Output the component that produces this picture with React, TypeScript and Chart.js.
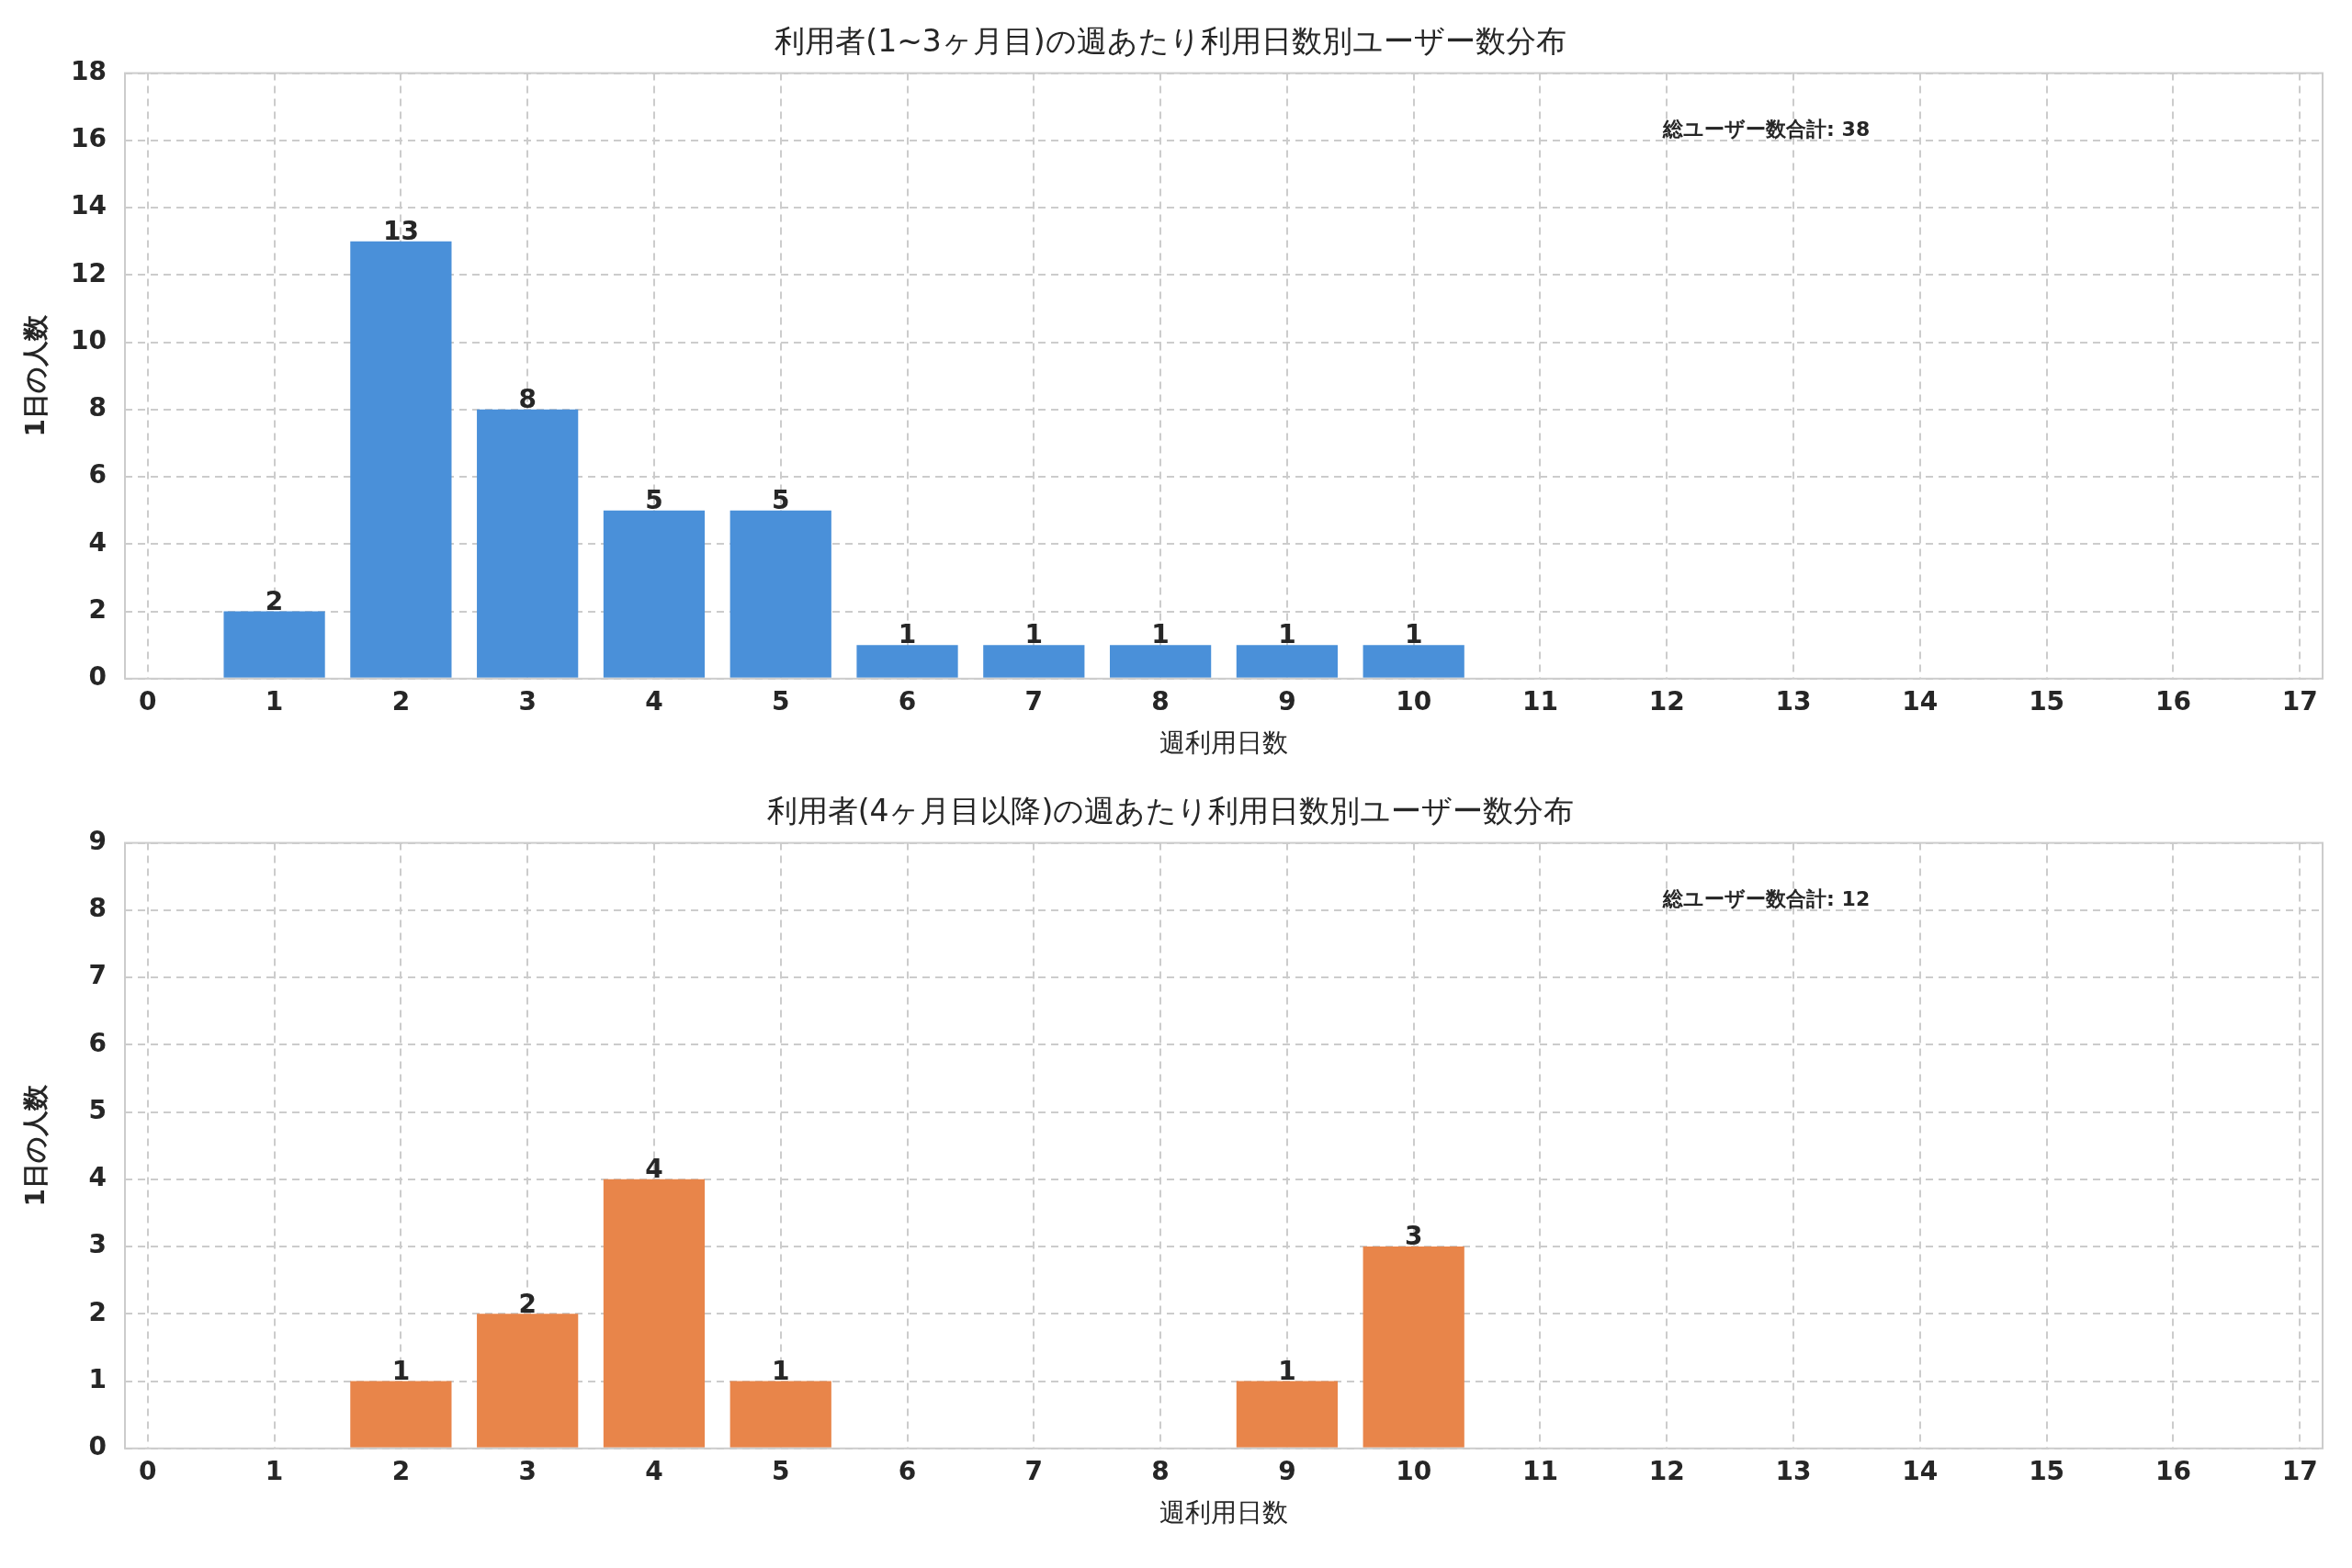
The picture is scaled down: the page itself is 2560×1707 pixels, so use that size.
import { useEffect, useRef } from "react";
import { Chart, registerables } from "chart.js";

Chart.register(...registerables);

const xTicks = [0, 1, 2, 3, 4, 5, 6, 7, 8, 9, 10, 11, 12, 13, 14, 15, 16, 17];

const earlyDays = [1, 2, 3, 4, 5, 6, 7, 8, 9, 10];
const earlyCounts = [2, 13, 8, 5, 5, 1, 1, 1, 1, 1];
const earlyTotal = 38;

const lateDays = [2, 3, 4, 5, 9, 10];
const lateCounts = [1, 2, 4, 1, 1, 3];
const lateTotal = 12;

const titles = [
  "利用者(1~3ヶ月目)の週あたり利用日数別ユーザー数分布",
  "利用者(4ヶ月目以降)の週あたり利用日数別ユーザー数分布",
];
const xTitle = "週利用日数";
const yTitle = "1日の人数";
const totalLabel = "総ユーザー数合計";

const FONT = "'DejaVu Sans', sans-serif";
const TEXT = "#262626";
const GRID = "#cccccc";

const labelPlugin = (total: number) => ({
  id: "labels",
  afterDraw(chart: any) {
    const ctx = chart.ctx;
    const { left, top, right, bottom } = chart.chartArea;
    ctx.save();
    ctx.strokeStyle = GRID;
    ctx.lineWidth = 2;
    ctx.strokeRect(left, top, right - left, bottom - top);
    ctx.fillStyle = TEXT;
    ctx.font = `bold 28px ${FONT}`;
    ctx.textAlign = "center";
    ctx.textBaseline = "middle";
    const meta = chart.getDatasetMeta(0);
    meta.data.forEach((bar: any, i: number) => {
      const v = chart.data.datasets[0].data[i].y;
      ctx.fillText(String(v), bar.x, bar.y - 9);
    });
    const xs = chart.scales.x;
    const ys = chart.scales.y;
    ctx.font = `bold 22px ${FONT}`;
    ctx.textAlign = "left";
    ctx.fillText(`${totalLabel}: ${total}`, xs.getPixelForValue(11.97), ys.getPixelForValue(ys.max * 0.905));
    ctx.restore();
  },
});

function BarPanel(props: { days: number[]; counts: number[]; total: number; title: string; color: string; yMax: number; step: number }) {
  const ref = useRef<HTMLCanvasElement>(null);
  useEffect(() => {
    if (!ref.current) return;
    const chart = new Chart(ref.current, {
      type: "bar",
      data: {
        datasets: [
          {
            data: props.days.map((d, i) => ({ x: d, y: props.counts[i] })),
            backgroundColor: props.color,
            barPercentage: 0.8,
            categoryPercentage: 1,
          },
        ],
      },
      options: {
        animation: false,
        responsive: false,
        layout: { padding: { left: 20, right: 32, top: 0, bottom: 6 } },
        plugins: {
          legend: { display: false },
          tooltip: { enabled: false },
          title: {
            display: true,
            text: props.title,
            color: TEXT,
            font: { family: FONT, size: 33, weight: "normal" },
            padding: { top: 28, bottom: 12 },
          },
        },
        scales: {
          x: {
            type: "linear",
            offset: false,
            min: -0.18,
            max: 17.18,
            afterBuildTicks: (s: any) => {
              s.ticks = xTicks.map((v) => ({ value: v }));
            },
            grid: { color: GRID, lineWidth: 2, drawTicks: false, offset: false },
            border: { display: false, dash: [8, 6] },
            ticks: { color: TEXT, font: { family: FONT, size: 28, weight: "bold" }, padding: 10, maxRotation: 0, autoSkip: false },
            title: { display: true, text: xTitle, color: TEXT, font: { family: FONT, size: 28 }, padding: { top: 2 } },
          },
          y: {
            min: 0,
            max: props.yMax,
            afterFit: (s: any) => {
              s.width = 116;
            },
            grid: { color: GRID, lineWidth: 2, drawTicks: false },
            border: { display: false, dash: [8, 6] },
            ticks: { stepSize: props.step, color: TEXT, font: { family: FONT, size: 28, weight: "bold" }, padding: 20 },
            title: { display: true, text: yTitle, color: TEXT, font: { family: FONT, size: 28, weight: "bold" }, padding: { bottom: 6 } },
          },
        },
      },
      plugins: [labelPlugin(props.total)],
    });
    return () => chart.destroy();
  }, []);
  return <canvas ref={ref} width={2560} height={838} style={{ display: "block" }} />;
}

export default function App() {
  useEffect(() => {
    document.body.style.margin = "0";
    document.body.style.background = "#fff";
  }, []);
  return (
    <div style={{ width: 2560, height: 1707, background: "#fff" }}>
      <BarPanel days={earlyDays} counts={earlyCounts} total={earlyTotal} title={titles[0]} color="#4a90d9" yMax={18} step={2} />
      <BarPanel days={lateDays} counts={lateCounts} total={lateTotal} title={titles[1]} color="#e8854a" yMax={9} step={1} />
    </div>
  );
}
